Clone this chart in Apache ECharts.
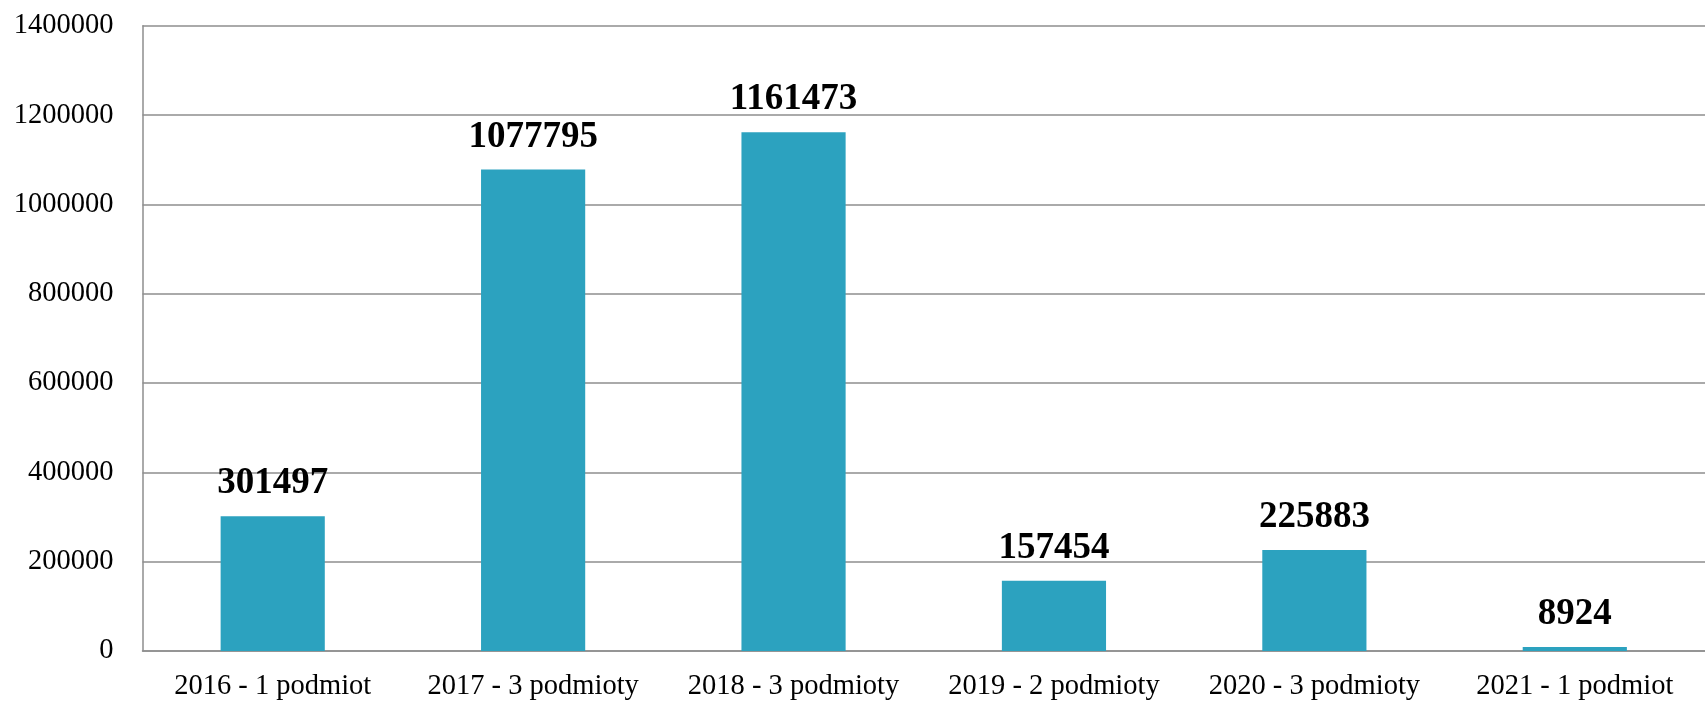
<!DOCTYPE html>
<html>
<head>
<meta charset="utf-8">
<script src="https://cdn.jsdelivr.net/npm/echarts@6/dist/echarts.min.js"></script>
<style>
html,body{margin:0;padding:0;background:#fff;}
#c{width:1705px;height:701px;}
</style>
</head>
<body>
<div id="c"></div>
<script>
const categories = ['2016 - 1 podmiot', '2017 - 3 podmioty', '2018 - 3 podmioty', '2019 - 2 podmioty', '2020 - 3 podmioty', '2021 - 1 podmiot'];
const values = [301497, 1077795, 1161473, 157454, 225883, 8924];
const yMin = 0, yMax = 1400000, yStep = 200000;

const chart = echarts.init(document.getElementById('c'));
chart.setOption({
  animation: false,
  backgroundColor: '#ffffff',
  grid: { left: 142.5, right: -15.5, top: 25.7, bottom: 48.7, containLabel: false },
  xAxis: {
    type: 'category',
    data: categories,
    axisLine: { show: true, lineStyle: { color: '#8e8e8e', width: 1.5 } },
    axisTick: { show: false },
    axisLabel: { interval: 0, color: '#000', fontFamily: 'Liberation Serif', fontSize: 28.5, margin: 21 },
    splitLine: { show: false }
  },
  yAxis: {
    type: 'value',
    min: yMin, max: yMax, interval: yStep,
    axisLine: { show: true, lineStyle: { color: '#8e8e8e', width: 1.5 } },
    axisTick: { show: false },
    axisLabel: { color: '#000', fontFamily: 'Liberation Serif', fontSize: 28.5, margin: 29, formatter: function (v) { return String(v); } },
    splitLine: { show: true, lineStyle: { color: '#8e8e8e', width: 1.5 } }
  },
  series: [{
    type: 'bar',
    data: values,
    barWidth: '40%',
    itemStyle: { color: '#2ca2bf' },
    label: {
      show: true, position: 'top', distance: 14,
      color: '#000', fontFamily: 'Liberation Serif', fontWeight: 'bold', fontSize: 37
    }
  }]
});
</script>
</body>
</html>
